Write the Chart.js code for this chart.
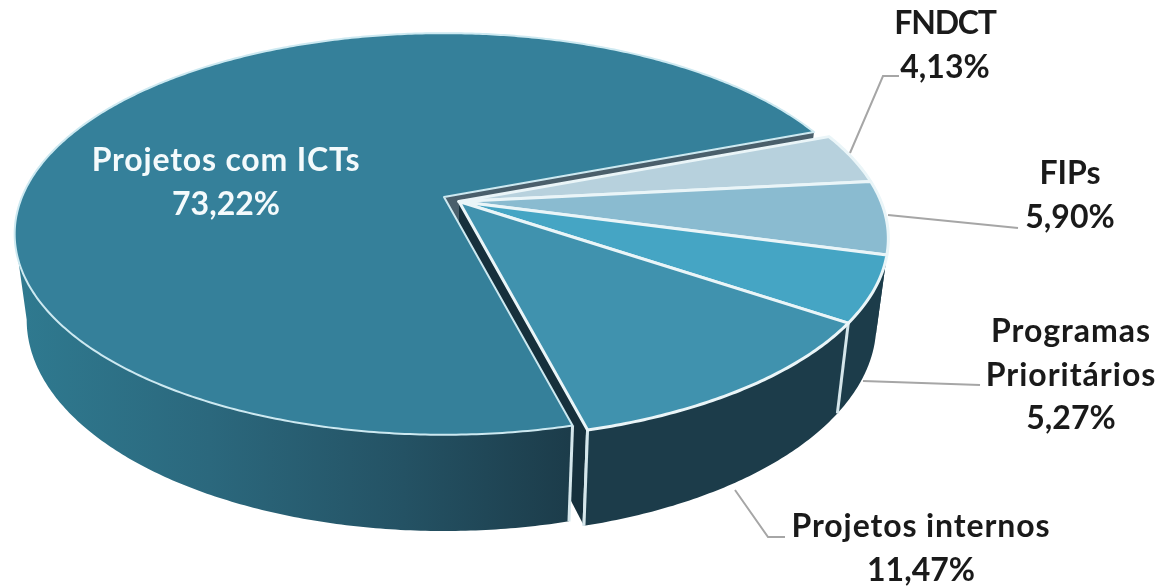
<!DOCTYPE html>
<html>
<head>
<meta charset="utf-8">
<style>
html, body { margin: 0; padding: 0; background: #fff; }
canvas { display: block; }
</style>
<script src="https://cdn.jsdelivr.net/npm/chart.js@4"></script>
</head>
<body>
<canvas id="chart" width="1161" height="588"></canvas>
<script>
/* ================= DATA ================= */
const categories = ["Projetos com ICTs", "FNDCT", "FIPs", "Programas Prioritários", "Projetos internos"];
const shares = [73.22, 4.13, 5.90, 5.27, 11.47];
const sliceColors = ["#35809A", "#B7D1DD", "#8ABBD0", "#45A5C4", "#4092AE"];

/* ================= 3D VIEW ================= */
const view = {
    rx: 422, ry: 194, tilt: 0.184, depth: 84, shrink: 0.028,
    big: { x: 444, y: 197 },
    rest: { x: 459, y: 201.5 }
};
const labelStyle = 'bold 32px Lato, "Open Sans", sans-serif';
const labelBoxes = [
    { lines: ["Projetos com ICTs"], x: 226, y: 161, color: "#F4FAFC", spacing: "0.8px" },
    { lines: ["FNDCT"], x: 945, y: 24, spacing: "-1.2px" },
    { lines: ["FIPs"], x: 1070, y: 174 },
    { lines: ["Programas", "Prioritários"], x: 1071, y: 332, spacing: "1px" },
    { lines: ["Projetos internos"], x: 921, y: 527, spacing: "0.9px" }
];
const leaders = [
    [[850, 153], [883, 76], [899, 76]],
    [[888, 215], [1018, 228]],
    [[863, 381], [980, 385]],
    [[735, 490], [768, 537], [785, 537]]
];

/* t = 0 top face, t = 1 bottom face */
function project(c, a, rho, t){
    let u = rho * Math.cos(a);
    let v = rho * Math.sin(a);
    let w = 1 - view.tilt * v;
    let s = 1 - view.shrink * t;
    return [c.x + view.rx * s * u / w, c.y + (view.ry * s * v + view.depth * t) / w];
}

function rimPath(ctx, c, a0, a1, t, first){
    let n = Math.max(2, Math.ceil(Math.abs(a1 - a0) / 0.01));
    for(let i = 0; i <= n; i++){
        let p = project(c, a0 + (a1 - a0) * i / n, 1, t);
        if(i === 0 && first) ctx.moveTo(p[0], p[1]);
        else ctx.lineTo(p[0], p[1]);
    }
}

function drawTop(ctx, c, arc, color, stroke, width){
    let apex = project(c, 0, 0, 0);
    ctx.beginPath();
    ctx.moveTo(apex[0], apex[1]);
    rimPath(ctx, c, arc.startAngle, arc.endAngle, 0, false);
    ctx.closePath();
    ctx.fillStyle = color;
    ctx.fill();
    ctx.strokeStyle = stroke;
    ctx.lineWidth = width;
    ctx.lineJoin = "round";
    ctx.stroke();
}

/* outer wall, only the part that looks at the viewer */
function drawWall(ctx, c, arc, fill){
    let seen0 = Math.asin(view.tilt);
    let seen1 = Math.PI - seen0;
    let a0 = arc.startAngle, a1 = arc.endAngle;
    // angles can run past 2PI, bring the range back
    while(a0 > seen1){ a0 -= Math.PI * 2; a1 -= Math.PI * 2; }
    a0 = Math.max(a0, seen0);
    a1 = Math.min(a1, seen1);
    if(a1 <= a0) return;
    ctx.beginPath();
    rimPath(ctx, c, a0, a1, 0, true);
    rimPath(ctx, c, a1, a0, 1, false);
    ctx.closePath();
    ctx.fillStyle = fill;
    ctx.fill();
}

function drawCutFace(ctx, c, a, fill){
    let p0 = project(c, a, 0, 0), p1 = project(c, a, 1, 0);
    let p2 = project(c, a, 1, 1), p3 = project(c, a, 0, 1);
    ctx.beginPath();
    ctx.moveTo(p0[0], p0[1]);
    ctx.lineTo(p1[0], p1[1]);
    ctx.lineTo(p2[0], p2[1]);
    ctx.lineTo(p3[0], p3[1]);
    ctx.closePath();
    ctx.fillStyle = fill;
    ctx.fill();
}

function drawEdge(ctx, c, a){
    let p1 = project(c, a, 1, 0), p2 = project(c, a, 1, 1);
    ctx.beginPath();
    ctx.moveTo(p1[0], p1[1]);
    ctx.lineTo(p2[0], p2[1]);
    ctx.strokeStyle = "#D5E6EB";
    ctx.lineWidth = 3;
    ctx.stroke();
}

/* ================= PLUGIN ================= */
const pie3d = {
    id: "pie3d",
    beforeDatasetsDraw(chart){
        const ctx = chart.ctx;
        const arcs = chart.getDatasetMeta(0).data;
        const big = arcs[0];
        const rest = arcs.slice(1);
        const last = arcs[arcs.length - 1];
        const darkWall = "#1C3C4A";

        ctx.save();
        drawCutFace(ctx, view.big, big.endAngle, "#4A5F6B");
        // left cut face of the pulled out group
        drawCutFace(ctx, view.rest, last.endAngle, "#16303C");
        drawEdge(ctx, view.rest, last.endAngle);

        let grad = ctx.createLinearGradient(15, 0, 570, 0);
        grad.addColorStop(0, "#2F7A90");
        grad.addColorStop(0.35, "#2B687D");
        grad.addColorStop(0.7, "#245264");
        grad.addColorStop(1, "#1C3C4A");
        drawWall(ctx, view.big, big, grad);
        drawEdge(ctx, view.big, big.startAngle);
        drawTop(ctx, view.big, big, sliceColors[0], "#CDE9F1", 2);

        rest.forEach(a => drawWall(ctx, view.rest, a, darkWall));
        drawEdge(ctx, view.rest, rest[3].startAngle);
        drawEdge(ctx, view.rest, last.endAngle);
        rest.forEach((a, i) => drawTop(ctx, view.rest, a, sliceColors[i + 1], "#EAF5F8", 3));
        ctx.restore();
        return false;
    },
    afterDraw(chart){
        const ctx = chart.ctx;
        ctx.save();
        ctx.strokeStyle = "#A6A6A6";
        ctx.lineWidth = 2;
        leaders.forEach(pts => {
            ctx.beginPath();
            pts.forEach((p, i) => i ? ctx.lineTo(p[0], p[1]) : ctx.moveTo(p[0], p[1]));
            ctx.stroke();
        });
        ctx.font = labelStyle;
        ctx.textAlign = "center";
        ctx.textBaseline = "middle";
        labelBoxes.forEach((box, i) => {
            ctx.fillStyle = box.color || "#1A1A1A";
            let y = box.y;
            ctx.letterSpacing = box.spacing || "0px";
            box.lines.forEach(line => {
                ctx.fillText(line, box.x, y);
                y += 43.5;
            });
            ctx.letterSpacing = "0px";
            ctx.fillText(shares[i].toFixed(2).replace(".", ",") + "%", box.x, y);
        });
        ctx.restore();
    }
};

/* ================= CHART ================= */
new Chart(document.getElementById("chart"), {
    type: "pie",
    data: {
        labels: categories,
        datasets: [{ data: shares, backgroundColor: sliceColors, borderWidth: 0 }]
    },
    options: {
        responsive: false,
        animation: false,
        rotation: 165.5,
        plugins: { legend: { display: false }, tooltip: { enabled: false } }
    },
    plugins: [pie3d]
});
</script>
</body>
</html>
